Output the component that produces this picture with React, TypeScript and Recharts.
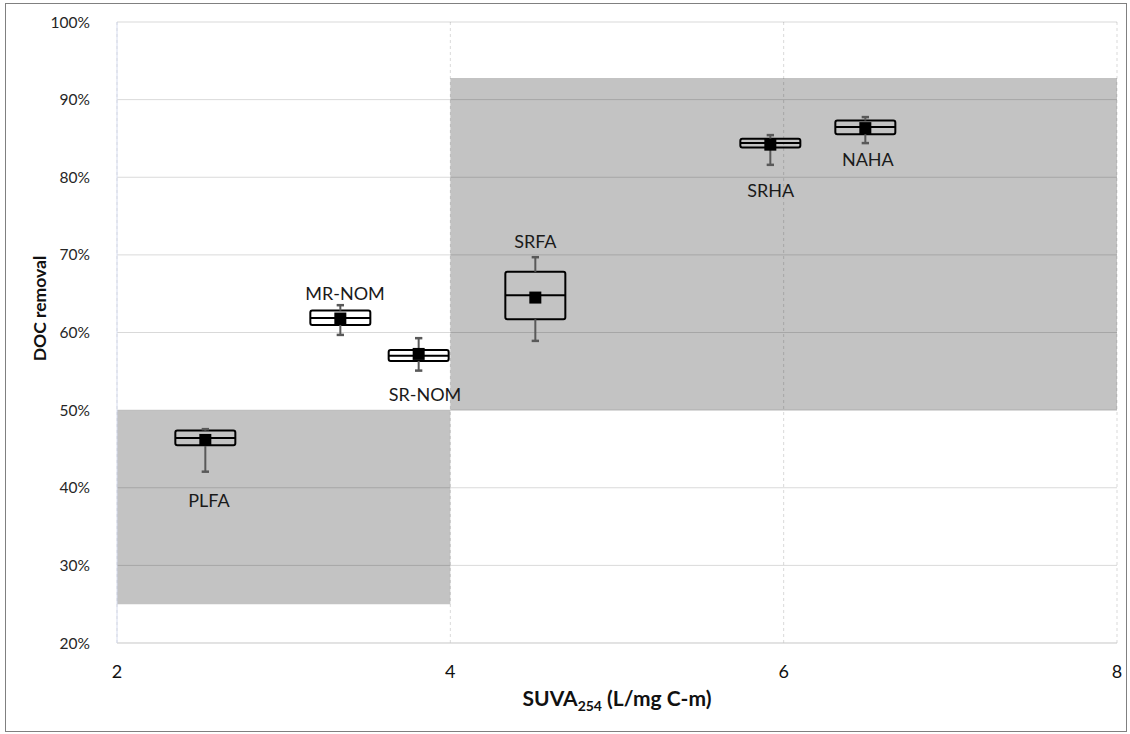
import {
  ScatterChart,
  Scatter,
  XAxis,
  YAxis,
  CartesianGrid,
  ReferenceArea,
  ReferenceLine,
  Label,
} from "recharts";

// samples and SUVA254 positions
const samples = ["PLFA", "MR-NOM", "SR-NOM", "SRFA", "SRHA", "NAHA"];
const suva = [2.53, 3.34, 3.81, 4.51, 5.92, 6.49];

// DOC removal box statistics (fraction)
const whiskerMin = [0.4207, 0.5969, 0.5509, 0.5892, 0.816, 0.844];
const q1 = [0.4548, 0.6098, 0.5634, 0.6171, 0.8383, 0.8555];
const median = [0.464, 0.6188, 0.5702, 0.6481, 0.844, 0.8646];
const q3 = [0.4736, 0.6282, 0.5776, 0.6781, 0.8495, 0.8731];
const whiskerMax = [0.4755, 0.6352, 0.5927, 0.697, 0.8543, 0.8775];
const mean = [0.4616, 0.618, 0.5724, 0.645, 0.842, 0.8633];

// where each sample name is written
const labelX = [2.552, 3.368, 3.848, 4.51, 5.923, 6.505];
const labelY = [0.3843, 0.651, 0.521, 0.718, 0.784, 0.824];

// shaded zones: [x1, x2, y1, y2]
const zones = [
  [2, 4, 0.25, 0.5],
  [4, 8, 0.5, 0.928],
];

const xTicks = [2, 4, 6, 8];
const yTicks = [0.2, 0.3, 0.4, 0.5, 0.6, 0.7, 0.8, 0.9, 1.0];

const BOX_HALF = 0.18;
const CAP_HALF = 0.022;
const FONT = "Lato, 'Open Sans', sans-serif";

const meanData = samples.map((name, i) => ({ name, x: suva[i], y: mean[i] }));
const labelData = samples.map((name, i) => ({ name, x: labelX[i], y: labelY[i] }));

const MeanSquare = (props: any) => (
  <rect x={props.cx - 6} y={props.cy - 6} width={12} height={12} fill="#000" />
);

const NameText = (props: any) => (
  <text
    x={props.cx}
    y={props.cy}
    textAnchor="middle"
    dominantBaseline="central"
    fontFamily={FONT}
    fontSize={18}
    fill="#1a1a1a"
  >
    {props.payload.name}
  </text>
);

const XTitle = (props: any) => {
  const vb = props.viewBox;
  return (
    <text
      x={vb.x + vb.width / 2}
      y={vb.y + 63}
      textAnchor="middle"
      fontFamily={FONT}
      fontWeight="bold"
      fontSize={21}
      fill="#111"
    >
      SUVA
      <tspan fontSize={14} dy={5}>254</tspan>
      <tspan dy={-5}> (L/mg C-m)</tspan>
    </text>
  );
};

const YTitle = (props: any) => {
  const vb = props.viewBox;
  const cx = 39;
  const cy = vb.y + vb.height / 2 - 24;
  return (
    <text
      x={cx}
      y={cy}
      transform={`rotate(-90 ${cx} ${cy})`}
      textAnchor="middle"
      dominantBaseline="central"
      fontFamily={FONT}
      fontWeight="bold"
      fontSize={17.5}
      fill="#111"
    >
      DOC removal
    </text>
  );
};

export default function App() {
  return (
    <div
      style={{
        position: "absolute",
        left: 0,
        top: 0,
        width: 1130,
        height: 734,
        background: "#fff",
      }}
    >
      <div
        style={{
          position: "absolute",
          left: 5,
          top: 3,
          width: 1120,
          height: 727,
          border: "1px solid #808080",
        }}
      />
      <div style={{ position: "absolute", left: 0, top: 0 }}>
        <ScatterChart
          width={1130}
          height={734}
          margin={{ top: 22, right: 13, bottom: 61, left: 0 }}
        >
          <CartesianGrid
            horizontal={true}
            vertical={false}
            stroke="#000"
            strokeOpacity={0.15}
          />
          <CartesianGrid
            horizontal={false}
            vertical={true}
            stroke="#000"
            strokeOpacity={0.15}
            strokeDasharray="3 3"
          />
          <XAxis
            type="number"
            dataKey="x"
            height={30}
            domain={[2, 8]}
            ticks={xTicks}
            tickSize={0}
            tickMargin={22}
            axisLine={{ stroke: "#d9d9d9" }}
            tick={{ fill: "#111", fontSize: 18, fontFamily: FONT }}
          >
            <Label content={<XTitle />} />
          </XAxis>
          <YAxis
            type="number"
            dataKey="y"
            width={117}
            domain={[0.2, 1]}
            ticks={yTicks}
            tickSize={0}
            tickMargin={27}
            axisLine={{ stroke: "#d6dcef" }}
            tickFormatter={(v: number) => `${Math.round(v * 100)}%`}
            tick={{ fill: "#262626", fontSize: 15.5, fontFamily: FONT }}
          >
            <Label content={<YTitle />} />
          </YAxis>

          {zones.map((z, i) => (
            <ReferenceArea
              key={`zone-${i}`}
              x1={z[0]}
              x2={z[1]}
              y1={z[2]}
              y2={z[3]}
              fill="#000"
              fillOpacity={0.235}
              stroke="none"
            />
          ))}

          {samples.map((s, i) => (
            <ReferenceArea
              key={`box-${s}`}
              x1={suva[i] - BOX_HALF}
              x2={suva[i] + BOX_HALF}
              y1={q1[i]}
              y2={q3[i]}
              fill="none"
              fillOpacity={0}
              stroke="#000"
              strokeWidth={2}
              radius={2}
            />
          ))}
          {samples.map((s, i) => (
            <ReferenceLine
              key={`med-${s}`}
              segment={[
                { x: suva[i] - BOX_HALF, y: median[i] },
                { x: suva[i] + BOX_HALF, y: median[i] },
              ]}
              stroke="#000"
              strokeWidth={2}
            />
          ))}
          {samples.map((s, i) => (
            <ReferenceLine
              key={`wlo-${s}`}
              segment={[
                { x: suva[i], y: whiskerMin[i] },
                { x: suva[i], y: q1[i] },
              ]}
              stroke="#595959"
              strokeWidth={2}
            />
          ))}
          {samples.map((s, i) => (
            <ReferenceLine
              key={`whi-${s}`}
              segment={[
                { x: suva[i], y: q3[i] },
                { x: suva[i], y: whiskerMax[i] },
              ]}
              stroke="#595959"
              strokeWidth={2}
            />
          ))}
          {samples.map((s, i) => (
            <ReferenceLine
              key={`clo-${s}`}
              segment={[
                { x: suva[i] - CAP_HALF, y: whiskerMin[i] },
                { x: suva[i] + CAP_HALF, y: whiskerMin[i] },
              ]}
              stroke="#595959"
              strokeWidth={2.5}
            />
          ))}
          {samples.map((s, i) => (
            <ReferenceLine
              key={`chi-${s}`}
              segment={[
                { x: suva[i] - CAP_HALF, y: whiskerMax[i] },
                { x: suva[i] + CAP_HALF, y: whiskerMax[i] },
              ]}
              stroke="#595959"
              strokeWidth={2.5}
            />
          ))}

          <Scatter
            data={meanData}
            dataKey="y"
            shape={<MeanSquare />}
            isAnimationActive={false}
          />
          <Scatter
            data={labelData}
            dataKey="y"
            shape={<NameText />}
            isAnimationActive={false}
          />
        </ScatterChart>
      </div>
    </div>
  );
}
